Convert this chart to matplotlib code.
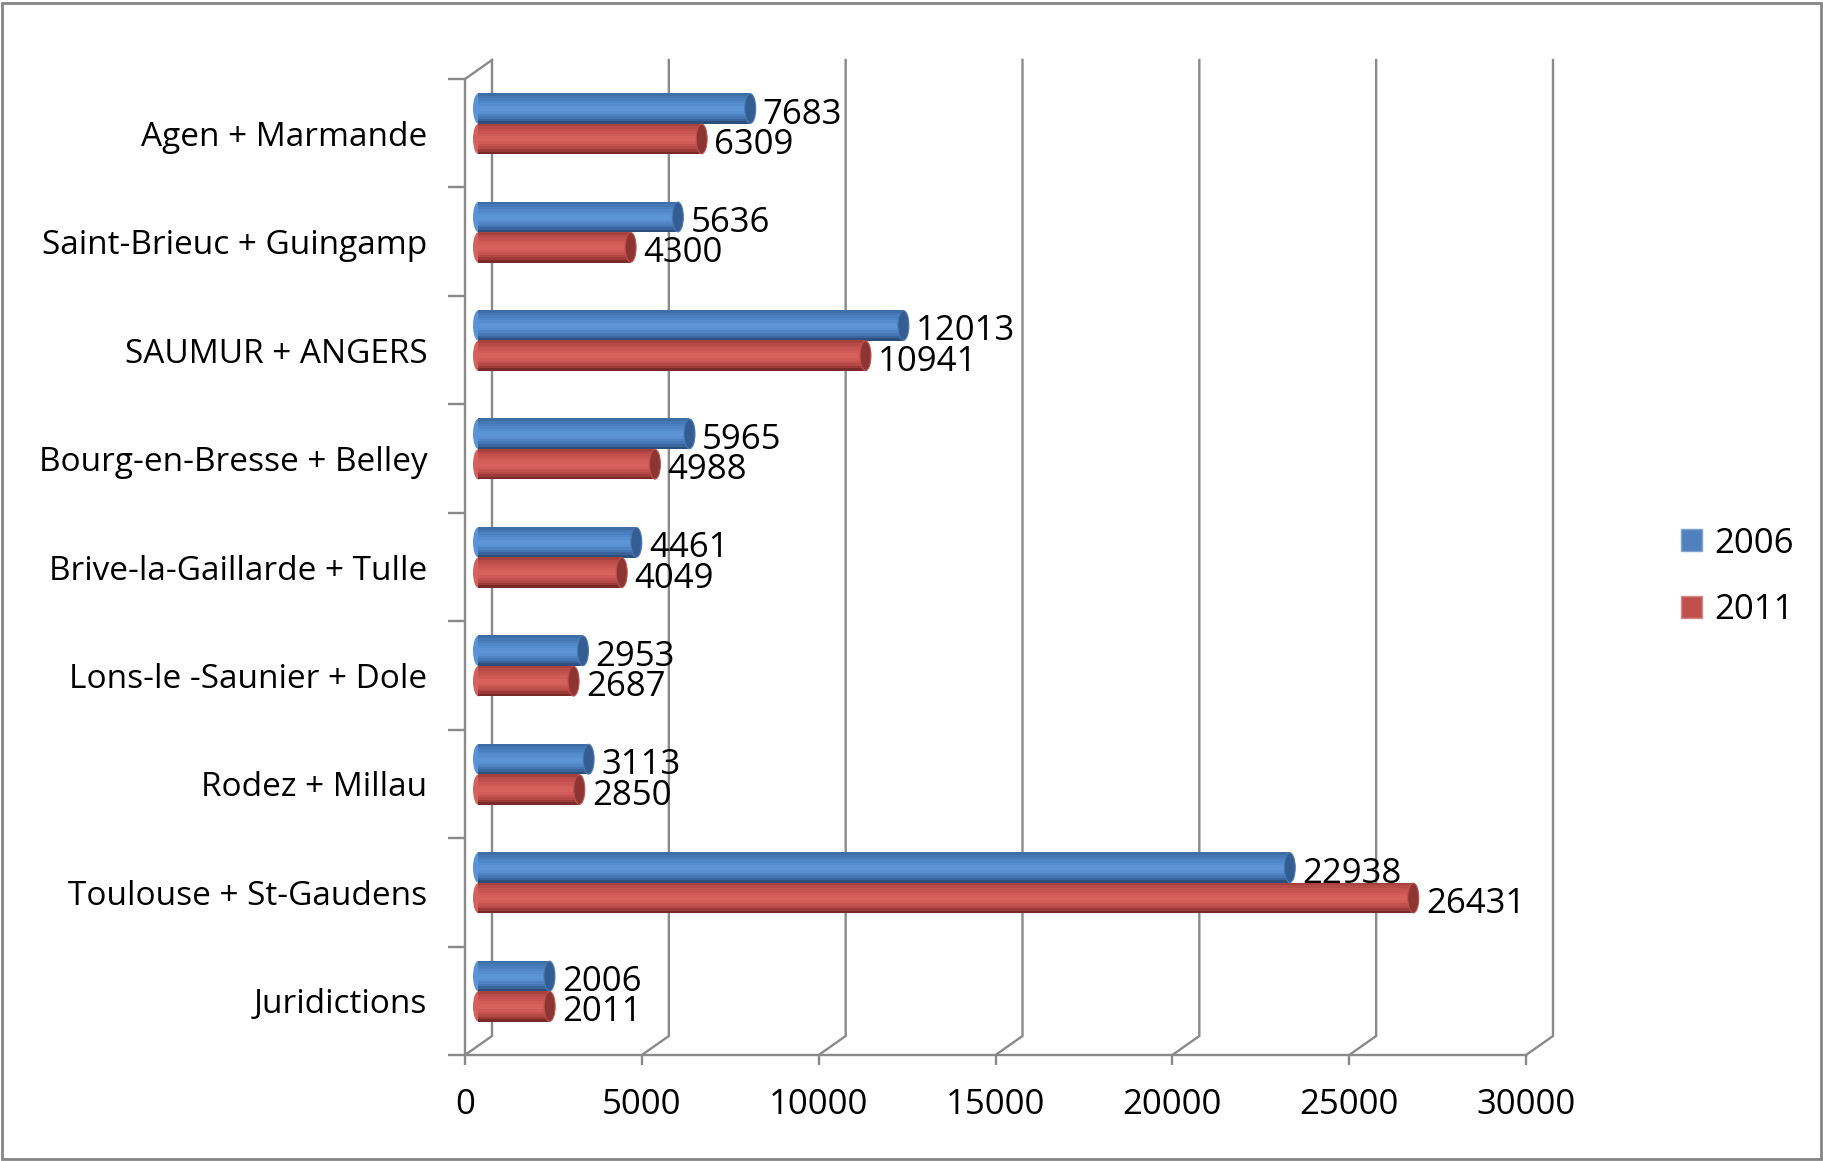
import numpy as np
import matplotlib
matplotlib.use("Agg")
import matplotlib.pyplot as plt
from matplotlib.patches import Ellipse, Rectangle, Patch

plt.rcParams['font.family'] = ['Open Sans', 'DejaVu Sans']

# data (top to bottom as shown)
categories = ["Agen + Marmande", "Saint-Brieuc + Guingamp", "SAUMUR + ANGERS",
              "Bourg-en-Bresse + Belley", "Brive-la-Gaillarde + Tulle",
              "Lons-le -Saunier + Dole", "Rodez + Millau", "Toulouse + St-Gaudens",
              "Juridictions"]
values_2006 = [7683, 5636, 12013, 5965, 4461, 2953, 3113, 22938, 2006]
values_2011 = [6309, 4300, 10941, 4988, 4049, 2687, 2850, 26431, 2011]
series_names = ["2006", "2011"]
xticks = [0, 5000, 10000, 15000, 20000, 25000, 30000]

W, H = 1824, 1161
fig = plt.figure(figsize=(W / 100, H / 100), dpi=100)
left, right, top, bottom = 465, 1526, 79, 1055
ax = fig.add_axes([left / W, (H - bottom) / H, (right - left) / W, (bottom - top) / H])

n = len(categories)
xmax = 30000
ax.set_xlim(0, xmax)
ax.set_ylim(-0.5, n - 0.5)
px_x = xmax / (right - left)
px_y = n / (bottom - top)
DX, DY = 27 * px_x, 19 * px_y          # depth of the 3d box
grey = "#8a8a8a"
num_fs = 25
cat_fs = 24

# back wall gridlines with their floor slants
for t in xticks:
    ax.plot([t, t + DX, t + DX], [-0.5, -0.5 + DY, n - 0.5 + DY], color=grey, lw=1.7,
            zorder=1, clip_on=False, solid_joinstyle='miter')
# left wall top edge
ax.plot([0, DX], [n - 0.5, n - 0.5 + DY], color=grey, lw=1.7, clip_on=False, zorder=1)

# cylinder shading profiles (bottom -> top)
shade = {
    "2006": ["#2c4f7c", "#3a659c", "#4677b5", "#4f84c4", "#5890d2", "#5c95d8",
             "#5a93d6", "#568dcf", "#5087c8", "#4a80c0", "#4479b6", "#3d6ea6"],
    "2011": ["#7a2b29", "#9c3a37", "#b44945", "#c4524f", "#d05b58", "#d6615d",
             "#d5605c", "#d05b57", "#ca5552", "#c2504d", "#b84a47", "#a6413e"],
}
cap_col = {"2006": "#345d92", "2011": "#8c3532"}
edge_col = {"2006": "#4a7ab8", "2011": "#c0504d"}

ypos = np.arange(n)[::-1]
bh = 0.28
xo, yo = DX / 2, DY / 2
cap_w = 11 * px_x
for name, vals, sgn in [("2006", values_2006, 1), ("2011", values_2011, -1)]:
    cols = shade[name]
    k = len(cols)
    for y, v in zip(ypos, vals):
        yc = y + yo + sgn * bh / 2
        y0 = yc - bh / 2
        # left rounded end
        ax.add_patch(Ellipse((xo, yc), cap_w, bh, facecolor=cols[k // 2], edgecolor='none', zorder=3))
        for j, c in enumerate(cols):
            ax.barh(y0 + j * bh / k, v, height=bh / k + 0.002, left=xo, align='edge',
                    color=c, edgecolor='none', zorder=3)
        ax.add_patch(Ellipse((xo + v, yc), cap_w, bh * 0.98, facecolor=cap_col[name],
                             edgecolor=edge_col[name], lw=0.8, zorder=4))
        ax.text(xo + v + cap_w / 2 + 7 * px_x, yc - 6 * px_y, f"{v}", fontsize=num_fs,
                ha='left', va='center', color='black', zorder=5)

# axes styling
for s in ['top', 'right']:
    ax.spines[s].set_visible(False)
for s in ['left', 'bottom']:
    ax.spines[s].set_color(grey)
    ax.spines[s].set_linewidth(1.7)
    ax.spines[s].set_zorder(2)

ax.set_xticks(xticks)
ax.set_xticklabels([str(t) for t in xticks], fontsize=num_fs)
ax.tick_params(axis='x', length=7, width=1.7, color=grey, pad=17)

ax.set_yticks(np.arange(-0.5, n, 1))
ax.set_yticklabels([])
ax.tick_params(axis='y', which='major', length=12, width=1.7, color=grey)
ax.set_yticks(ypos, minor=True)
ax.set_yticklabels(categories, minor=True, fontsize=cat_fs)
ax.tick_params(axis='y', which='minor', length=0, pad=27)

# legend
handles = [Patch(facecolor="#4f81bd", edgecolor='#7ea3d1'), Patch(facecolor="#c0504d", edgecolor='#d58a88')]
fig.legend(handles, series_names, loc='center left', bbox_to_anchor=(1650 / W, 1 - 577 / H),
           frameon=False, fontsize=num_fs, handlelength=0.6, handleheight=0.6,
           handletextpad=0.35, labelspacing=0.95)

# chart border
fig.patches.append(Rectangle((2 / W, 2 / H), 1 - 5 / W, 1 - 5 / H, transform=fig.transFigure,
                             fill=False, edgecolor="#858585", lw=2))

fig.savefig("out.png", dpi=100)
